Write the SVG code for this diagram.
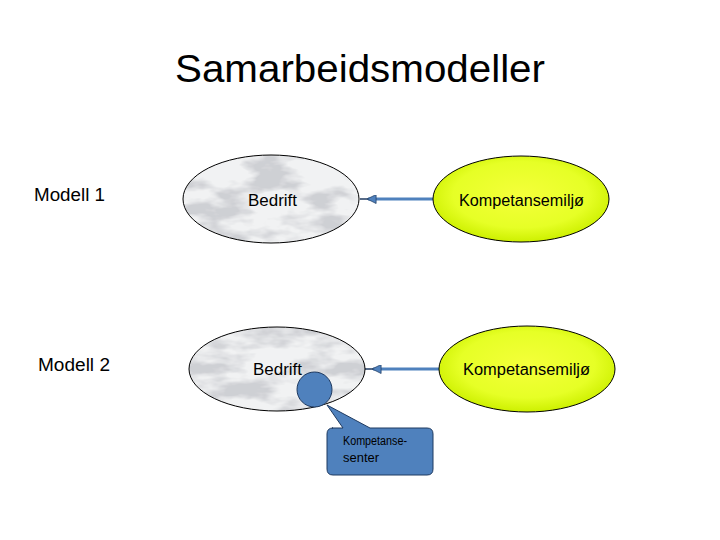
<svg xmlns="http://www.w3.org/2000/svg" width="720" height="540" viewBox="0 0 720 540">
<defs>
<style>
.lbl{font-family:"Liberation Sans",Arial,sans-serif;fill:#000}
.node{stroke:#000;stroke-width:1}
.conn{stroke:#4f81bd;stroke-width:3;fill:none}
</style>
<filter id="marble" x="0" y="0" width="100%" height="100%">
<feTurbulence type="fractalNoise" baseFrequency="0.02 0.05" numOctaves="4" seed="11" result="n"/>
<feColorMatrix in="n" type="matrix" values="0 0 0 0 0.62  0 0 0 0 0.63  0 0 0 0 0.66  0 0 0 -4 2.25" result="v"/>
<feFlood flood-color="#f1f2f3" result="bg"/>
<feComposite in="v" in2="bg" operator="over"/>
</filter>
<radialGradient id="yel" cx="50%" cy="45%" r="55%">
<stop offset="0" stop-color="#f4ff3a"/>
<stop offset="0.7" stop-color="#e6ff26"/>
<stop offset="1" stop-color="#cdf000"/>
</radialGradient>
<clipPath id="c1"><ellipse cx="271" cy="199" rx="88" ry="44"/></clipPath>
<clipPath id="c2"><ellipse cx="277" cy="369" rx="88" ry="42"/></clipPath>
<marker id="ah" viewBox="0 0 10 10" refX="9" refY="5" markerWidth="4" markerHeight="3" orient="auto" markerUnits="strokeWidth">
<path d="M10,5 L0,0 L0,10 Z" fill="#4f81bd" stroke="#1f3a60" stroke-width="0.8"/>
</marker>
</defs>
<rect width="720" height="540" fill="#fff"/>
<text class="lbl" x="360" y="82" font-size="38" text-anchor="middle" textLength="370" lengthAdjust="spacingAndGlyphs">Samarbeidsmodeller</text>
<text class="lbl" x="34" y="201" font-size="18" textLength="71" lengthAdjust="spacingAndGlyphs">Modell 1</text>
<text class="lbl" x="38" y="371" font-size="18" textLength="72" lengthAdjust="spacingAndGlyphs">Modell 2</text>

<g id="connectors">
<line x1="360" y1="199" x2="368" y2="199" stroke="#1f3a60" stroke-width="1.5"/>
<path class="conn" d="M433,199 L368,199" marker-end="url(#ah)"/>
<line x1="365" y1="369" x2="373" y2="369" stroke="#1f3a60" stroke-width="1.5"/>
<path class="conn" d="M439,369 L373,369" marker-end="url(#ah)"/>
</g>

<g id="bedrift1">
<g clip-path="url(#c1)"><rect x="183" y="155" width="176" height="88" filter="url(#marble)"/></g>
<ellipse class="node" cx="271" cy="199" rx="88" ry="44" fill="none"/>
<text class="lbl" x="248" y="206" font-size="16" textLength="49" lengthAdjust="spacingAndGlyphs">Bedrift</text>
</g>
<g id="kompetansemiljo1">
<ellipse class="node" cx="521" cy="199" rx="88" ry="43" fill="url(#yel)"/>
<text class="lbl" x="459" y="206" font-size="16" textLength="125" lengthAdjust="spacingAndGlyphs">Kompetansemiljø</text>
</g>

<g id="bedrift2">
<g clip-path="url(#c2)"><rect x="189" y="327" width="176" height="84" filter="url(#marble)"/></g>
<ellipse class="node" cx="277" cy="369" rx="88" ry="42" fill="none"/>
<text class="lbl" x="253" y="375" font-size="16" textLength="49" lengthAdjust="spacingAndGlyphs">Bedrift</text>
</g>
<g id="kompetansemiljo2">
<ellipse class="node" cx="527" cy="369" rx="88" ry="43" fill="url(#yel)"/>
<text class="lbl" x="463" y="375" font-size="16" textLength="127" lengthAdjust="spacingAndGlyphs">Kompetansemiljø</text>
</g>

<g id="kompetansesenter">
<circle cx="314.5" cy="389.5" r="17.5" fill="#4f81bd" stroke="#1f3a60" stroke-width="1"/>
<path d="M332,428 L343,428 L327,405 L370,428 L427,428 Q433,428 433,434 L433,469 Q433,475 427,475 L333,475 Q327,475 327,469 L327,434 Q327,428 333,428 Z" fill="#4f81bd" stroke="#1f3a60" stroke-width="1"/>
<text class="lbl" x="343" y="445" font-size="12" textLength="64" lengthAdjust="spacingAndGlyphs">Kompetanse-</text>
<text class="lbl" x="343" y="462" font-size="12" textLength="36" lengthAdjust="spacingAndGlyphs">senter</text>
</g>
</svg>
